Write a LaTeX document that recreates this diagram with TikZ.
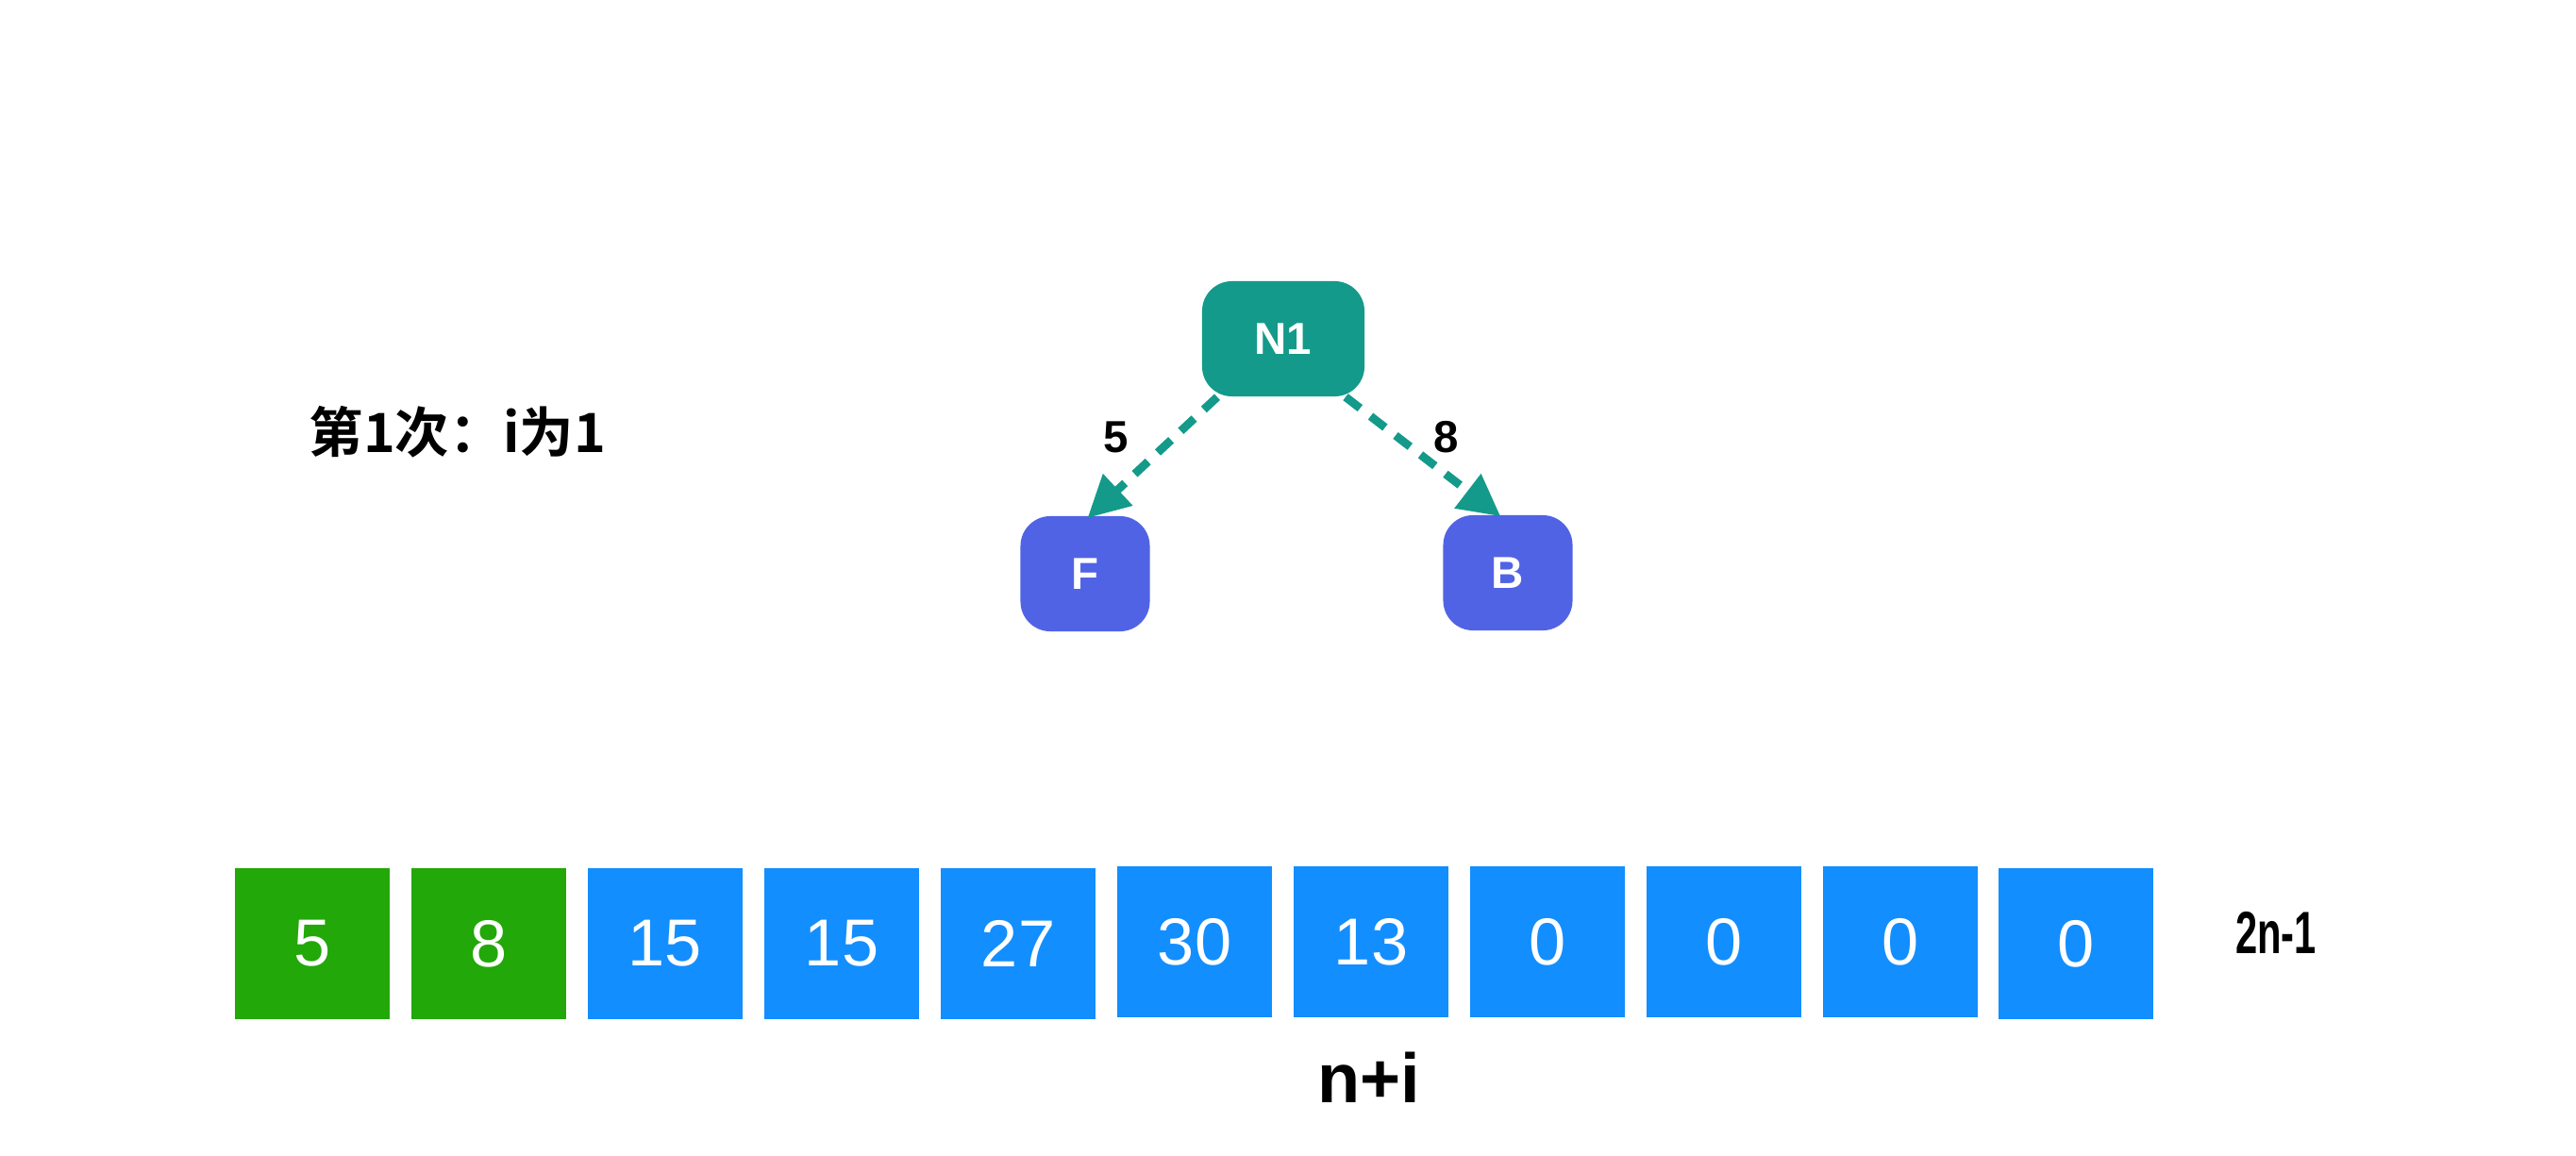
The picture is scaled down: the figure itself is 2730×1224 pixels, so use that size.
\documentclass[tikz,border=0pt]{standalone}
\usepackage{fontspec}
\setmainfont{Liberation Sans}
\newfontfamily\cjk{Noto Sans CJK SC}[BoldFont={* Bold}]
\usetikzlibrary{arrows.meta}
\definecolor{teal1}{RGB}{20,154,138}
\definecolor{violet1}{RGB}{81,99,229}
\definecolor{green1}{RGB}{34,168,8}
\definecolor{blue1}{RGB}{18,142,255}
\begin{document}
\begin{tikzpicture}[x=0.01cm,y=-0.01cm]
\tikzset{
  treenode/.style={rounded corners=9pt, inner sep=0pt, text=white, font=\bfseries\fontsize{13.5}{16}\selectfont},
  cellbox/.style={minimum width=1.64cm, minimum height=1.60cm, inner sep=0pt, text=white, font=\fontsize{20}{24}\selectfont},
  greencell/.style={cellbox, fill=green1},
  bluecell/.style={cellbox, fill=blue1},
  treeedge/.style={draw=teal1, line width=2.5pt, dash pattern=on 5.5pt off 4pt, -{Triangle[length=12.5pt,width=12.5pt]}},
  edgelabel/.style={font=\bfseries\fontsize{13.5}{16}\selectfont, inner sep=0pt}
}
\useasboundingbox (0,0) rectangle (2730,1224);
\fill[white] (0,0) rectangle (2730,1224);

\node[anchor=west, inner sep=0pt, font=\cjk\bfseries\fontsize{16.3}{20}\selectfont] (title) at (327,458) {第1次：i为1};

\node[treenode, fill=teal1, minimum width=1.72cm, minimum height=1.22cm] (N1) at (1360,359) {N1};
\node[treenode, fill=violet1, minimum width=1.37cm, minimum height=1.22cm] (F) at (1150,608) {F};
\node[treenode, fill=violet1, minimum width=1.37cm, minimum height=1.22cm] (B) at (1598,607) {B};

\draw[treeedge, shorten >=1pt] ([xshift=-0.70cm]N1.south) -- ([yshift=-0.05cm]F.north);
\draw[treeedge, shorten >=1pt] ([xshift=0.66cm]N1.south) -- ([xshift=-0.05cm,yshift=-0.04cm]B.north);
\node[edgelabel] (l5) at (1183,463) {5};
\node[edgelabel] (l8) at (1533,463) {8};

\node[greencell] (c1) at (331,1000) {5};
\node[greencell] (c2) at (518,1000) {8};
\node[bluecell] (c3) at (705,1000) {15};
\node[bluecell] (c4) at (892,1000) {15};
\node[bluecell] (c5) at (1079,1000) {27};
\node[bluecell] (c6) at (1266,998) {30};
\node[bluecell] (c7) at (1453,998) {13};
\node[bluecell] (c8) at (1640,998) {0};
\node[bluecell] (c9) at (1827,998) {0};
\node[bluecell] (c10) at (2014,998) {0};
\node[bluecell] (c11) at (2200,1000) {0};

\node[inner sep=0pt, font=\bfseries\fontsize{18}{20}\selectfont] (len) at (2412,988) {\scalebox{0.66}[1]{2n-1}};
\node[inner sep=0pt, font=\bfseries\fontsize{21}{24}\selectfont] (ni) at (1451,1142) {n+i};
\end{tikzpicture}
\end{document}
